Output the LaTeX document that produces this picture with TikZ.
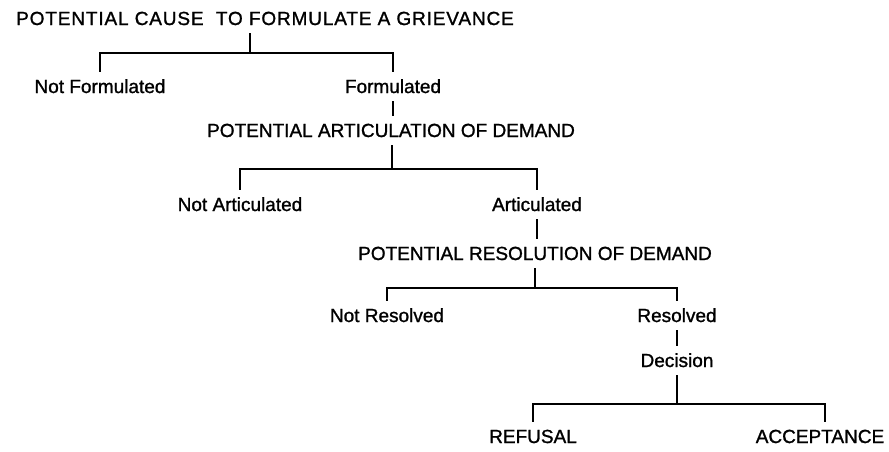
\documentclass[tikz,border=0pt]{standalone}
\usepackage{fontspec}
\setmainfont[FakeBold=1.2]{Liberation Sans}
\newfontfamily\headfont[LetterSpace=4.5,FakeBold=1.2]{Liberation Sans}
\begin{document}
\begin{tikzpicture}[x=1pt,y=-1pt,font=\fontsize{19}{22}\selectfont,
    lbl/.style={anchor=base,inner sep=0pt,outer sep=8pt,text height=13.5pt,text depth=0pt},
    tie/.style={line width=1.6pt}]
      \useasboundingbox[fill=white] (0,0) rectangle (889,451);
      \node[lbl] (cause) at (265,25) {\headfont POTENTIAL CAUSE\ \ TO FORMULATE A GRIEVANCE};
      \node[lbl] (notform) at (100,93) {Not Formulated};
      \node[lbl] (form) at (393,93) {Formulated};
      \node[lbl] (artic) at (391,137) {POTENTIAL ARTICULATION OF DEMAND};
      \node[lbl] (notartic) at (240,211) {Not Articulated};
      \node[lbl] (isartic) at (537,211) {Articulated};
      \node[lbl] (resol) at (535,260) {POTENTIAL RESOLUTION OF DEMAND};
      \node[lbl] (notres) at (387,322) {Not Resolved};
      \node[lbl] (isres) at (677,322) {Resolved};
      \node[lbl] (decision) at (677,367) {Decision};
      \node[lbl] (refusal) at (533,443) {REFUSAL};
      \node[lbl] (accept) at (820,443) {ACCEPTANCE};
      \coordinate (j1) at (250,53);
      \coordinate (j2) at (392,169);
      \coordinate (j3) at (535,288);
      \coordinate (j4) at (677,404);
      \draw[tie] (cause.south -| j1) -- (j1);
      \draw[tie] (notform.north) |- (j1) -| (form.north);
      \draw[tie] (form.south) -- (form.south |- artic.north);
      \draw[tie] (artic.south -| j2) -- (j2);
      \draw[tie] (notartic.north) |- (j2) -| (isartic.north);
      \draw[tie] (isartic.south) -- (isartic.south |- resol.north);
      \draw[tie] (resol.south) -- (j3);
      \draw[tie] (notres.north) |- (j3) -| (isres.north);
      \draw[tie] (isres.south) -- (decision.north);
      \draw[tie] (decision.south) -- (j4);
      \draw[tie] (refusal.north) |- (j4) -| ([xshift=5pt]accept.north);
    \end{tikzpicture}
\end{document}
